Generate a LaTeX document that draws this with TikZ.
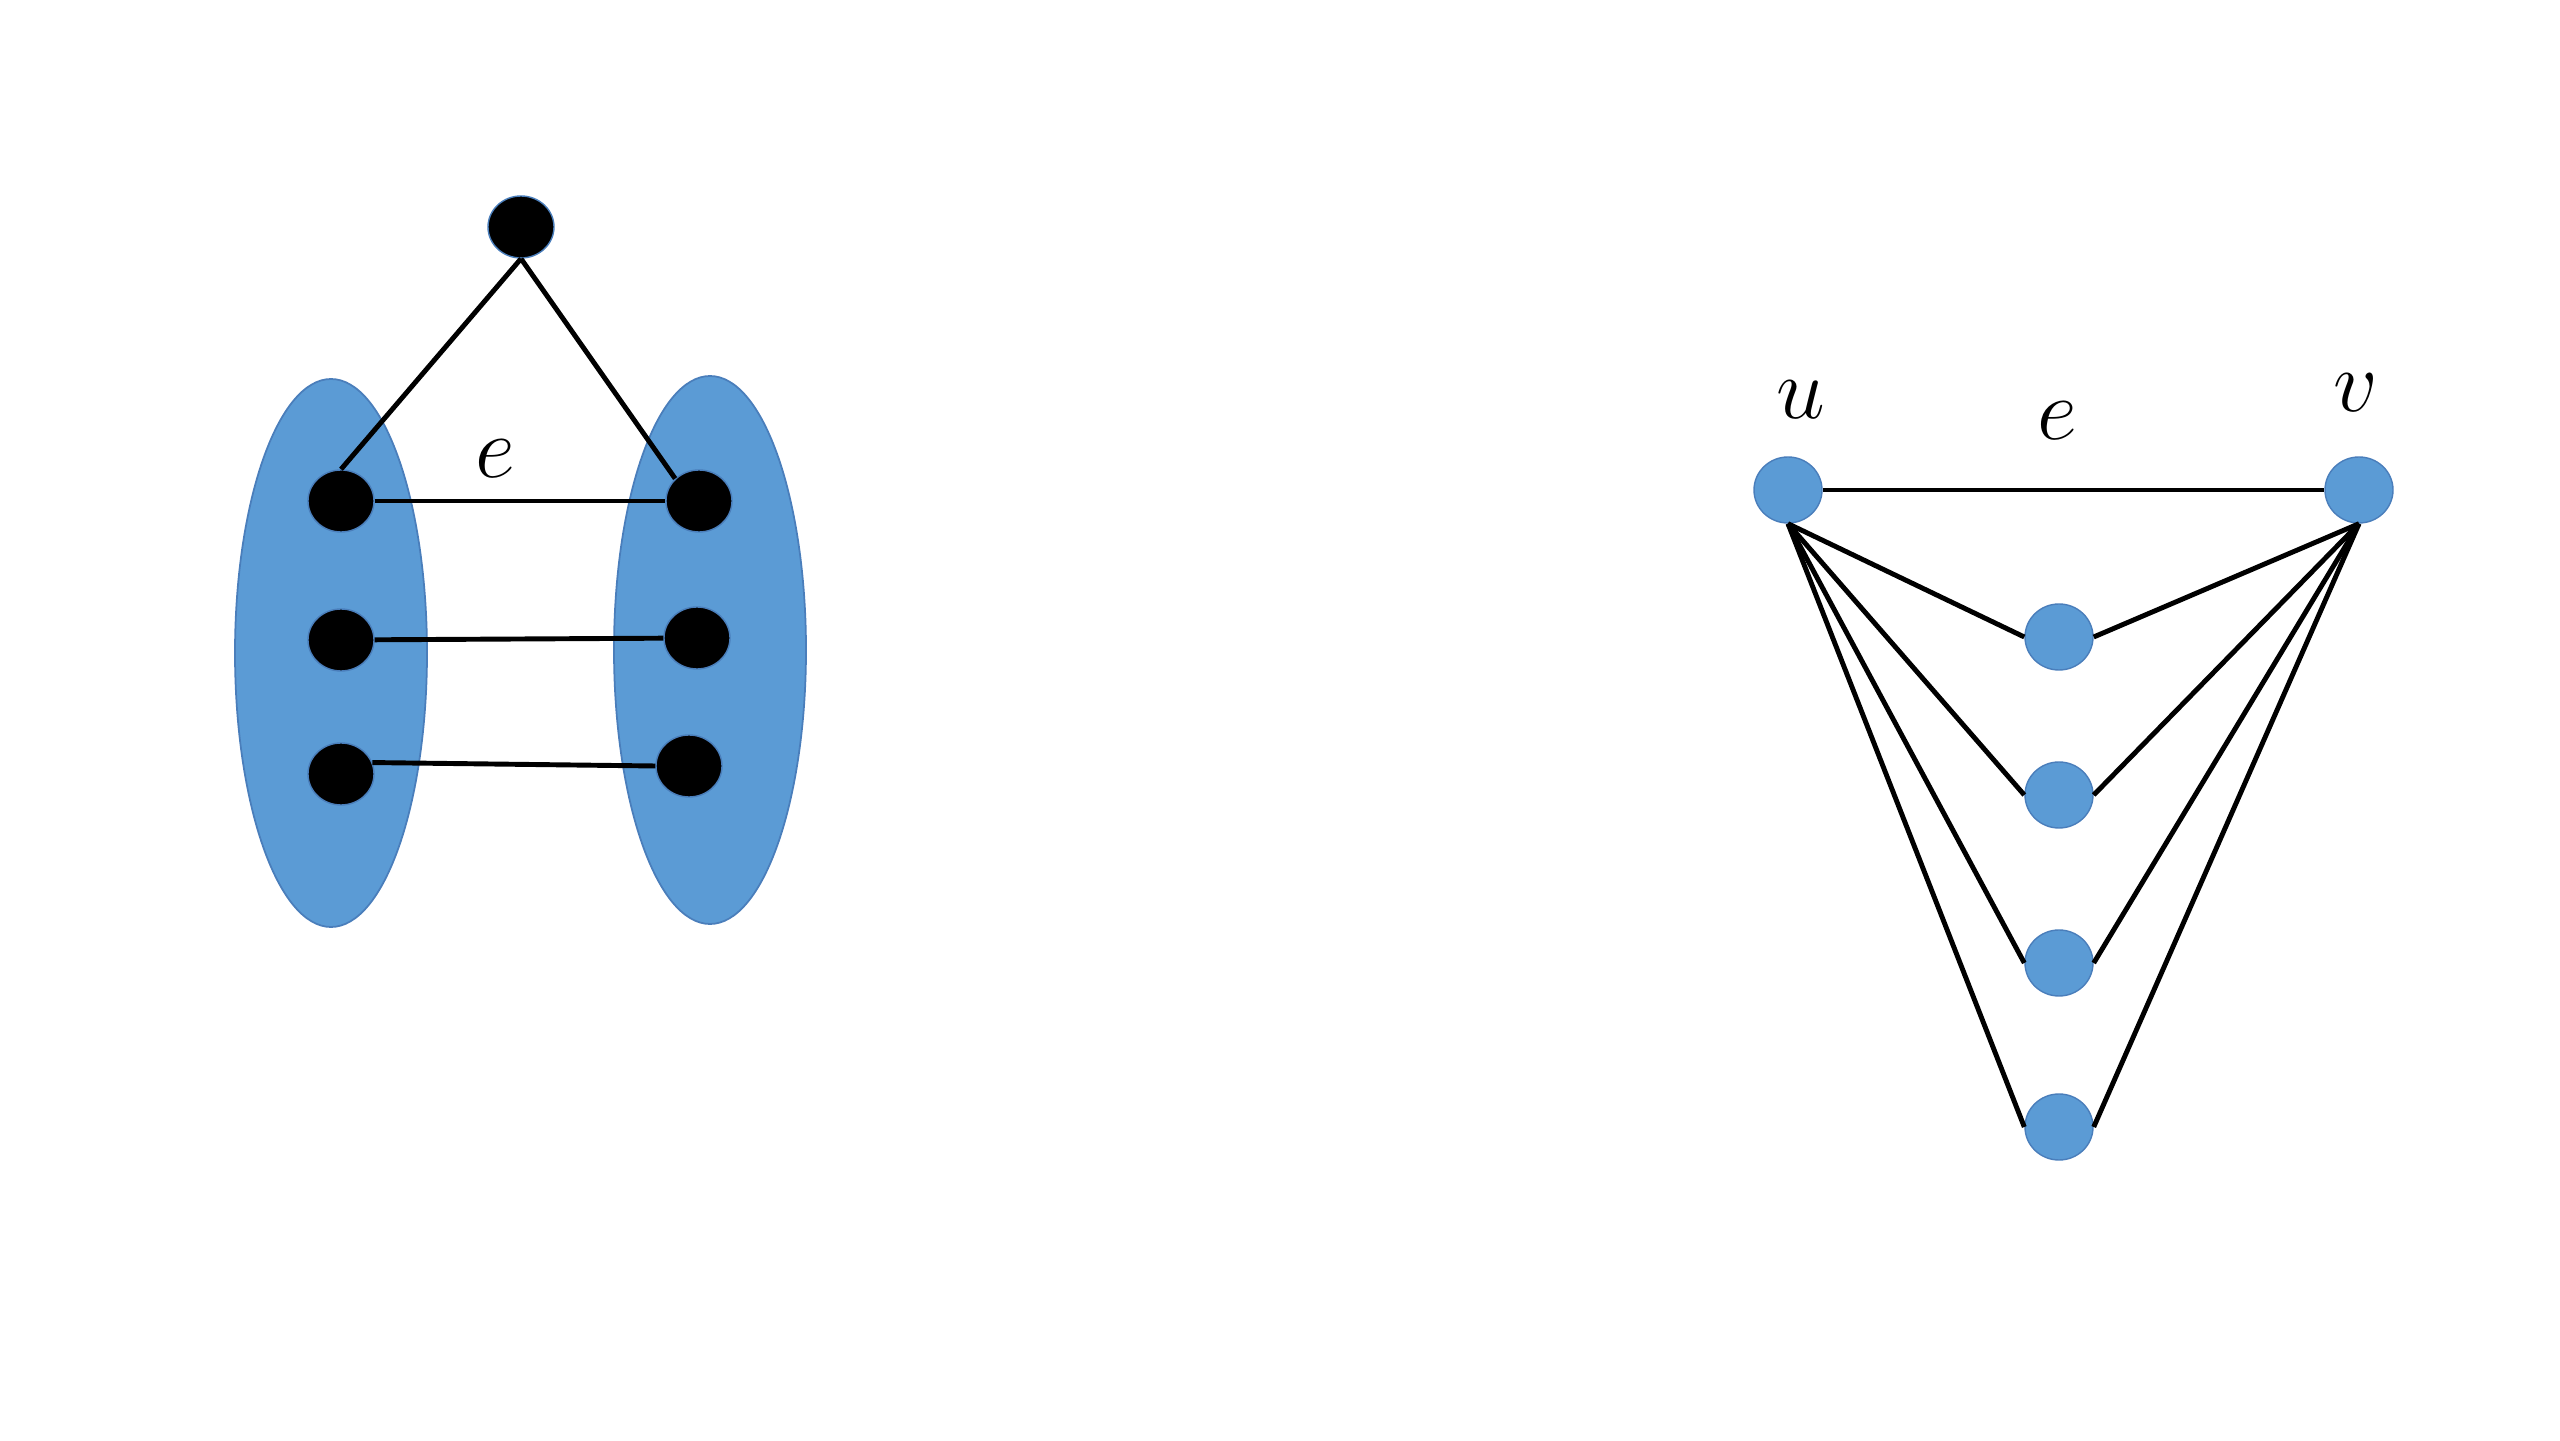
\documentclass[tikz,border=0pt]{standalone}
\usetikzlibrary{shapes.geometric}
\definecolor{setblue}{HTML}{5B9BD5}
\definecolor{setedge}{HTML}{4A7EBB}
\begin{document}
\begin{tikzpicture}[
    dot/.style={ellipse, fill=black, draw=setedge, line width=0.4pt,
      minimum width=0.66cm, minimum height=0.62cm, inner sep=0pt},
    bdot/.style={ellipse, fill=setblue, draw=setedge, line width=0.4pt,
      minimum width=0.68cm, minimum height=0.66cm, inner sep=0pt},
    part/.style={ellipse, fill=setblue, draw=setedge, line width=0.5pt,
      minimum width=1.92cm, minimum height=5.48cm, inner sep=0pt},
    link/.style={line width=1.4pt, black},
    lab/.style={font=\fontsize{25}{30}\selectfont}
  ]
  \useasboundingbox (0,0) rectangle (25.6,14.4);
  % Left: the two parts
  \node[part] (pl) at (3.31, 7.87) {};
  \node[part] (pr) at (7.10, 7.90) {};
  % Left: vertices
  \node[dot] (top) at (5.21,12.13) {};
  \node[dot] (l1) at (3.41, 9.39) {};
  \node[dot] (l2) at (3.41, 8.00) {};
  \node[dot] (l3) at (3.41, 6.66) {};
  \node[dot] (r1) at (6.99, 9.39) {};
  \node[dot] (r2) at (6.97, 8.02) {};
  \node[dot] (r3) at (6.89, 6.74) {};
  % Left: edges
  \draw[link] (top.south) -- (l1.north);
  \draw[link] (top.south) -- (r1.north west);
  \draw[link] (l1) -- (r1);
  \draw[link] (l2) -- (r2);
  \draw[link] (l3.20) -- (r3.west);
  \node[lab] (le) at (4.95, 9.81) {$e$};
  % Right: u, v and the middle vertices
  \node[bdot] (u) at (17.88, 9.50) {};
  \node[bdot] (v) at (23.59, 9.50) {};
  \foreach \i/\y in {1/8.03, 2/6.45, 3/4.77, 4/3.13} {
    \node[bdot] (m\i) at (20.59, \y) {};
  }
  % Right: edges
  \draw[link] (u) -- (v);
  \foreach \i in {1,...,4} {
    \draw[link] (u.south) -- (m\i.west);
    \draw[link] (v.south) -- (m\i.east);
  }
  % Labels
  \node[lab] (lu) at (18.01, 10.40) {$u$};
  \node[lab] (re) at (20.57, 10.19) {$e$};
  \node[lab] (lv) at (23.56, 10.47) {$v$};
\end{tikzpicture}
\end{document}
